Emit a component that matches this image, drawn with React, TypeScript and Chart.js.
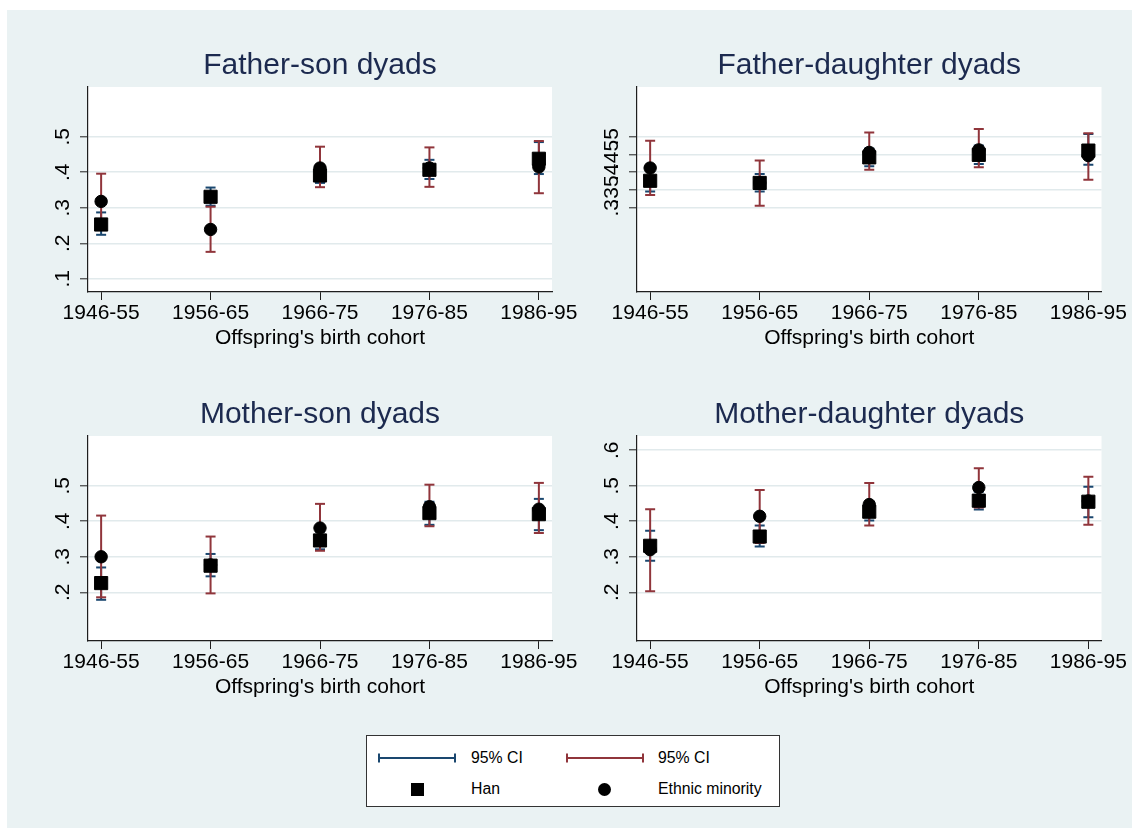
import React, { useEffect, useRef } from 'react';
import { Chart, registerables } from 'chart.js';

Chart.register(...registerables);

// ---------- data ----------
const COHORTS = ['1946-55', '1956-65', '1966-75', '1976-85', '1986-95'];
const X_AXIS_TITLE = "Offspring's birth cohort";
const Y_MIN = 0.063;
const Y_MAX = 0.64;

// Father-son
const FS_HAN = [0.253, 0.331, 0.391, 0.407, 0.438];
const FS_HAN_LO = [0.224, 0.306, 0.37, 0.381, 0.395];
const FS_HAN_HI = [0.287, 0.357, 0.414, 0.435, 0.485];
const FS_MIN = [0.318, 0.239, 0.412, 0.412, 0.415];
const FS_MIN_LO = [0.24, 0.176, 0.358, 0.359, 0.341];
const FS_MIN_HI = [0.396, 0.303, 0.472, 0.47, 0.488];
const FS_TICKS = [0.1, 0.2, 0.3, 0.4, 0.5];

// Father-daughter
const FD_HAN = [0.376, 0.37, 0.442, 0.449, 0.461];
const FD_HAN_LO = [0.346, 0.346, 0.417, 0.423, 0.421];
const FD_HAN_HI = [0.406, 0.395, 0.467, 0.475, 0.508];
const FD_MIN = [0.412, 0.37, 0.456, 0.463, 0.447];
const FD_MIN_LO = [0.336, 0.306, 0.407, 0.414, 0.379];
const FD_MIN_HI = [0.489, 0.433, 0.512, 0.522, 0.51];
const FD_TICKS = [0.3, 0.35, 0.4, 0.45, 0.5];

// Mother-son
const MS_HAN = [0.226, 0.275, 0.346, 0.423, 0.42];
const MS_HAN_LO = [0.179, 0.245, 0.321, 0.39, 0.375];
const MS_HAN_HI = [0.27, 0.308, 0.371, 0.455, 0.463];
const MS_MIN = [0.3, 0.277, 0.381, 0.441, 0.434];
const MS_MIN_LO = [0.186, 0.197, 0.317, 0.386, 0.367];
const MS_MIN_HI = [0.416, 0.357, 0.449, 0.503, 0.508];
const MS_TICKS = [0.2, 0.3, 0.4, 0.5];

// Mother-daughter
const MD_HAN = [0.331, 0.357, 0.427, 0.458, 0.455];
const MD_HAN_LO = [0.289, 0.329, 0.402, 0.433, 0.411];
const MD_HAN_HI = [0.373, 0.388, 0.452, 0.483, 0.497];
const MD_MIN = [0.32, 0.414, 0.447, 0.495, 0.457];
const MD_MIN_LO = [0.203, 0.339, 0.388, 0.439, 0.39];
const MD_MIN_HI = [0.434, 0.488, 0.508, 0.549, 0.525];
const MD_TICKS = [0.2, 0.3, 0.4, 0.5, 0.6];

const LEGEND_CI = '95% CI';
const LEGEND_HAN = 'Han';
const LEGEND_MIN = 'Ethnic minority';

// ---------- styles ----------
const FONT = '"Liberation Sans", Arial, Helvetica, sans-serif';
const BG = '#eaf2f3';
const GRID = '#e1eaec';
const AXIS = '#1e1e1e';
const BLUE = '#1a476f';
const RED = '#90353b';
const TITLE_COLOR = '#1c2a4f';
const TICK_SIZE = 21;

type PanelSpec = {
  title: string;
  han: number[]; hanLo: number[]; hanHi: number[];
  min: number[]; minLo: number[]; minHi: number[];
  ticks: number[];
  left: number; top: number; width: number; height: number;
  yWidth: number; padRight: number;
};

const fmt = (v: number) => {
  const s = String(+v.toFixed(2));
  return s.startsWith('0.') ? s.slice(1) : s;
};

const pts = (arr: number[]) => arr.map((y, i) => ({ x: i, y }));
const capData = (lo: number[], hi: number[]) => {
  const out: any[] = [];
  lo.forEach((l, i) => {
    out.push({ x: i, y: l }, { x: i, y: hi[i] }, { x: i, y: null });
  });
  return out;
};

const whiteArea = {
  id: 'whiteArea',
  beforeDraw(chart: any) {
    const { ctx, chartArea } = chart;
    ctx.save();
    ctx.fillStyle = '#ffffff';
    ctx.fillRect(chartArea.left, chartArea.top, chartArea.right - chartArea.left, chartArea.bottom - chartArea.top);
    ctx.restore();
  },
};

function measureWidest(labels: string[]) {
  const c = document.createElement('canvas');
  const ctx = c.getContext('2d')!;
  ctx.font = `${TICK_SIZE}px ${FONT}`;
  return Math.max(...labels.map((l) => ctx.measureText(l).width));
}

function Panel({ spec }: { spec: PanelSpec }) {
  const ref = useRef<HTMLCanvasElement>(null);
  useEffect(() => {
    if (!ref.current) return;
    const tickFont = { family: FONT, size: TICK_SIZE, weight: 'normal' as const, lineHeight: 1.2 };
    const widest = measureWidest(spec.ticks.map(fmt));
    const yPad = 24.5 - 8 - widest / 2;
    const ciLine = (lo: number[], hi: number[], color: string, order: number, label: string) => ({
      type: 'line' as const,
      label,
      data: capData(lo, hi),
      borderColor: color,
      backgroundColor: color,
      borderWidth: 2,
      pointStyle: 'line' as const,
      pointRadius: 5,
      pointHoverRadius: 5,
      pointBorderColor: color,
      pointBackgroundColor: color,
      pointBorderWidth: 2,
      spanGaps: false,
      fill: false,
      tension: 0,
      order,
    });
    const chart = new Chart(ref.current, {
      type: 'scatter',
      data: {
        datasets: [
          {
            type: 'scatter',
            label: LEGEND_MIN,
            data: pts(spec.min),
            pointStyle: 'circle',
            pointRadius: 6.2,
            pointHoverRadius: 6.2,
            backgroundColor: '#000',
            borderColor: '#000',
            borderWidth: 1,
            order: 0,
          },
          {
            type: 'scatter',
            label: LEGEND_HAN,
            data: pts(spec.han),
            pointStyle: 'rect',
            pointRadius: 9.3,
            pointHoverRadius: 9.3,
            backgroundColor: '#000',
            borderColor: '#000',
            borderWidth: 1,
            order: 1,
          },
          ciLine(spec.minLo, spec.minHi, RED, 2, LEGEND_CI) as any,
          ciLine(spec.hanLo, spec.hanHi, BLUE, 3, LEGEND_CI) as any,
        ],
      },
      options: {
        animation: false,
        responsive: false,
        maintainAspectRatio: false,
        events: [],
        layout: { padding: { left: 0, right: spec.padRight, top: 0, bottom: 0 } },
        plugins: {
          legend: { display: false },
          tooltip: { enabled: false },
          title: {
            display: true,
            text: spec.title,
            fullSize: false,
            color: TITLE_COLOR,
            font: { family: FONT, size: 30, weight: 'normal', lineHeight: 1.2 },
            padding: { top: 7.5, bottom: 3.5 },
          },
        },
        scales: {
          x: {
            type: 'linear',
            min: -0.12,
            max: 4.12,
            afterBuildTicks: (s: any) => {
              s.ticks = COHORTS.map((_, i) => ({ value: i }));
            },
            afterFit: (s: any) => {
              s.height = 68;
              s.paddingLeft = 0;
              s.paddingRight = 0;
            },
            ticks: {
              autoSkip: false,
              minRotation: 0,
              maxRotation: 0,
              padding: 1,
              color: '#000',
              font: tickFont,
              callback: (v: any) => COHORTS[Math.round(Number(v))] ?? '',
            },
            grid: { drawOnChartArea: false, tickLength: 8, tickColor: AXIS, tickWidth: 1 },
            border: { display: true, color: AXIS, width: 1.2 },
            title: {
              display: true,
              text: X_AXIS_TITLE,
              color: '#000',
              font: tickFont,
              padding: { top: 0, bottom: 9.6 },
            },
          },
          y: {
            type: 'linear',
            min: Y_MIN,
            max: Y_MAX,
            afterBuildTicks: (s: any) => {
              s.ticks = spec.ticks.map((v) => ({ value: v }));
            },
            afterFit: (s: any) => {
              s.width = spec.yWidth;
              s.paddingTop = 0;
              s.paddingBottom = 0;
            },
            ticks: {
              autoSkip: false,
              minRotation: 90,
              maxRotation: 90,
              crossAlign: 'center',
              padding: yPad,
              color: '#000',
              font: tickFont,
              callback: (v: any) => fmt(Number(v)),
            },
            grid: { color: GRID, lineWidth: 1.6, tickLength: 8, tickColor: AXIS, tickWidth: 1 },
            border: { display: true, color: AXIS, width: 1.2 },
          },
        },
      },
      plugins: [whiteArea],
    });
    return () => chart.destroy();
  }, [spec]);
  return (
    <canvas
      ref={ref}
      width={spec.width}
      height={spec.height}
      style={{ position: 'absolute', left: spec.left, top: spec.top, width: spec.width, height: spec.height }}
    />
  );
}

const PANELS: PanelSpec[] = [
  { title: 'Father-son dyads', han: FS_HAN, hanLo: FS_HAN_LO, hanHi: FS_HAN_HI, min: FS_MIN, minLo: FS_MIN_LO, minHi: FS_MIN_HI, ticks: FS_TICKS,
    left: 33, top: 30, width: 560, height: 320, yWidth: 48, padRight: 48 },
  { title: 'Father-daughter dyads', han: FD_HAN, hanLo: FD_HAN_LO, hanHi: FD_HAN_HI, min: FD_MIN, minLo: FD_MIN_LO, minHi: FD_MIN_HI, ticks: FD_TICKS,
    left: 593, top: 30, width: 532, height: 320, yWidth: 37, padRight: 30.5 },
  { title: 'Mother-son dyads', han: MS_HAN, hanLo: MS_HAN_LO, hanHi: MS_HAN_HI, min: MS_MIN, minLo: MS_MIN_LO, minHi: MS_MIN_HI, ticks: MS_TICKS,
    left: 33, top: 379, width: 560, height: 320, yWidth: 48, padRight: 48 },
  { title: 'Mother-daughter dyads', han: MD_HAN, hanLo: MD_HAN_LO, hanHi: MD_HAN_HI, min: MD_MIN, minLo: MD_MIN_LO, minHi: MD_MIN_HI, ticks: MD_TICKS,
    left: 593, top: 379, width: 532, height: 320, yWidth: 37, padRight: 30.5 },
];

function CiSymbol({ color }: { color: string }) {
  return (
    <svg width={78} height={12} style={{ position: 'absolute', left: 0, top: 0 }}>
      <line x1={1} y1={6} x2={77} y2={6} stroke={color} strokeWidth={2} />
      <line x1={1} y1={1.5} x2={1} y2={10.5} stroke={color} strokeWidth={2} />
      <line x1={77} y1={1.5} x2={77} y2={10.5} stroke={color} strokeWidth={2} />
    </svg>
  );
}

function Legend() {
  const text = (label: string, x: number, cy: number) => (
    <div style={{ position: 'absolute', left: x, top: cy - 10, height: 20, lineHeight: '20px', fontSize: 15.8, fontFamily: FONT, color: '#000', whiteSpace: 'nowrap' }}>
      {label}
    </div>
  );
  const r1 = 22;
  const r2 = 53;
  return (
    <div style={{ position: 'absolute', left: 359, top: 725, width: 414, height: 72, background: '#fff', border: '1px solid #333', boxSizing: 'border-box' }}>
      <div style={{ position: 'absolute', left: 11, top: r1 - 6, width: 78, height: 12 }}><CiSymbol color={BLUE} /></div>
      {text(LEGEND_CI, 104, r1)}
      <div style={{ position: 'absolute', left: 199, top: r1 - 6, width: 78, height: 12 }}><CiSymbol color={RED} /></div>
      {text(LEGEND_CI, 291, r1)}
      <div style={{ position: 'absolute', left: 44, top: r2 - 6.5, width: 13, height: 13, background: '#000' }} />
      {text(LEGEND_HAN, 104, r2)}
      <div style={{ position: 'absolute', left: 231, top: r2 - 6.5, width: 13, height: 13, background: '#000', borderRadius: '50%' }} />
      {text(LEGEND_MIN, 291, r2)}
    </div>
  );
}

export default function App() {
  return (
    <div style={{ position: 'absolute', left: 7, top: 10, width: 1125, height: 818, background: BG, overflow: 'hidden' }}>
      {PANELS.map((p) => (
        <Panel key={p.title} spec={p} />
      ))}
      <Legend />
    </div>
  );
}
